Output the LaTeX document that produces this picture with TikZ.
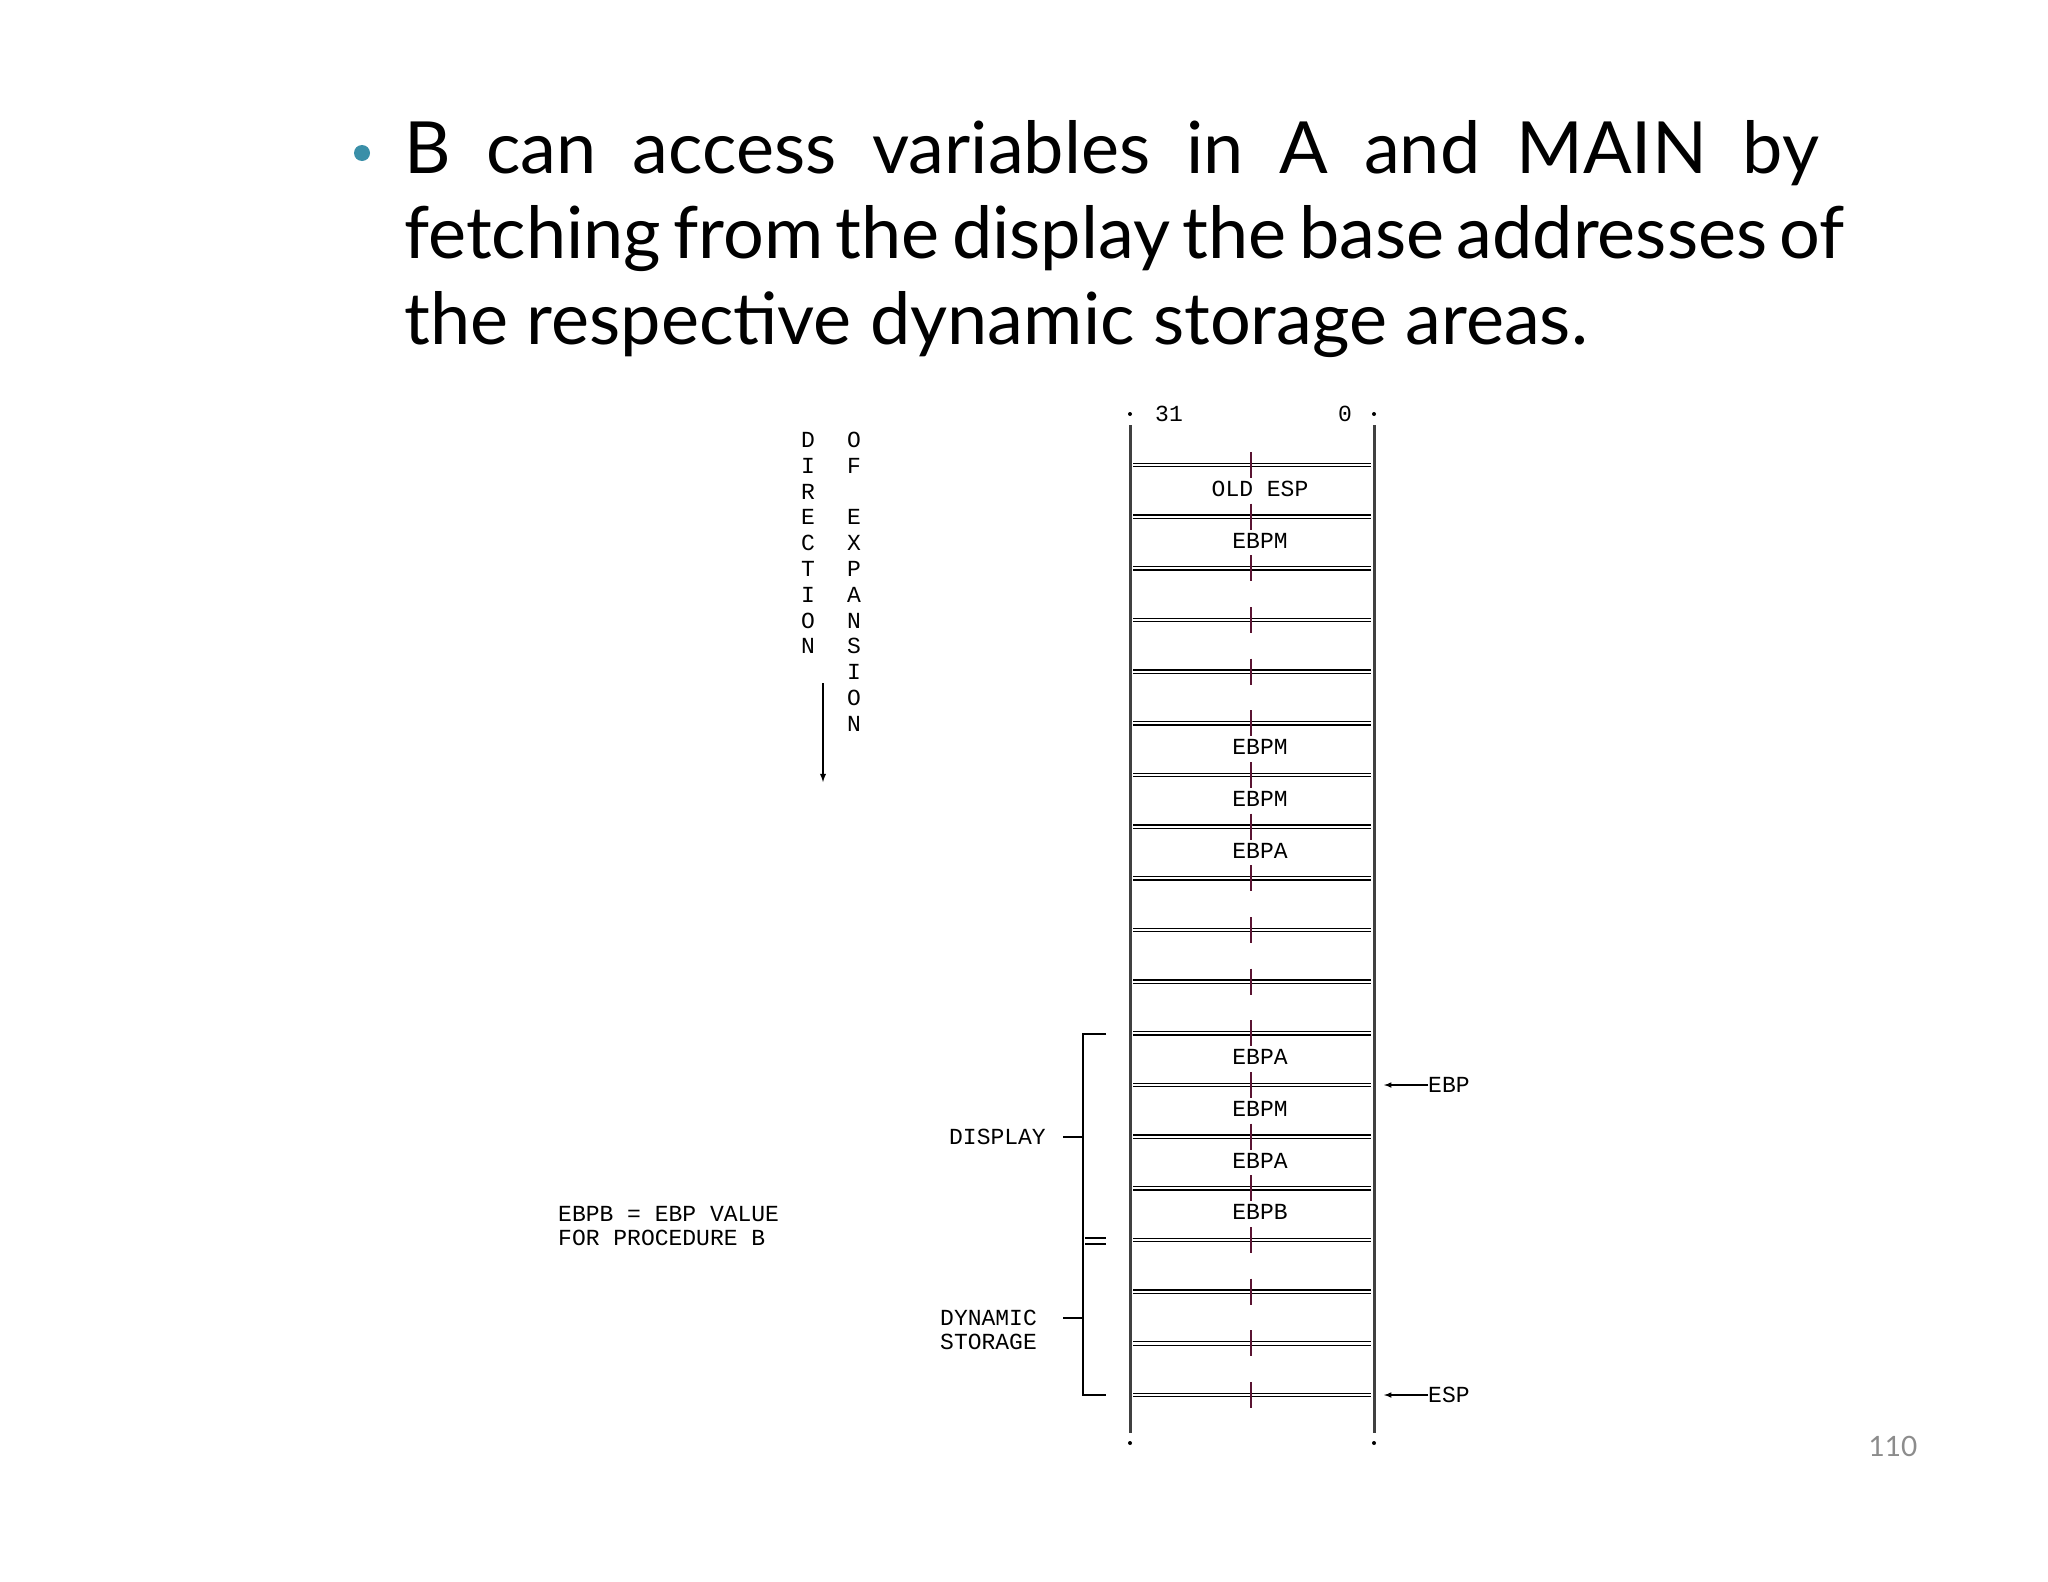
\documentclass[tikz,border=0pt]{standalone}
\usepackage{fontspec}
\setmainfont{Lato}
\newfontfamily\mono{Liberation Mono}
\begin{document}
\begin{tikzpicture}[x=1pt,y=-1pt,
  lbl/.style={font=\mono\fontsize{23}{25}\selectfont, inner sep=0pt},
  row/.style={draw=black, line width=1.2pt, double=white, double distance=2.2pt},
  side/.style={line width=3pt, draw=black!75},
  br/.style={line width=1.8pt}]
\useasboundingbox (0,0) rectangle (2048,1582);
\fill[fill={rgb,255:red,58;green,143;blue,168}] (362,153) circle (8);
\tikzset{bt/.style={anchor=west, inner sep=0pt, font=\fontsize{72}{80}\selectfont}}
\node[bt] (l1) at (404,153) {\makebox[1415pt][s]{B can access variables in A and MAIN by}};
\node[bt] (l2) at (404,239) {\makebox[1415pt][s]{fetching from the display the base addresses of}};
\node[bt] (l3) at (404,325) {the respective dynamic storage areas.};
% stack sides
\draw[side] (1130,425) -- (1130,1433);
\draw[side] (1374,425) -- (1374,1433);
\fill (1130,414) circle (2); \fill (1374,414) circle (2);
\fill (1130,1443) circle (2); \fill (1374,1443) circle (2);
\node[lbl] (b31) at (1169,414) {31};
\node[lbl] (b0) at (1345,414) {0};
\foreach \i in {0,...,18}{
  \pgfmathsetmacro\yy{465+51.67*\i}
  \draw[row] (1133,\yy) -- (1371,\yy);
  \draw[line width=1.5pt, draw={rgb,255:red,90;green,20;blue,50}] (1251,\yy-13) -- (1251,\yy+13);
}
\foreach \i/\t in {0/OLD ESP,1/EBPM,5/EBPM,6/EBPM,7/EBPA,11/EBPA,12/EBPM,13/EBPA,14/EBPB}{
  \pgfmathsetmacro\yy{465+51.67*\i+24}
  \node[lbl, fill=white, inner sep=1pt] at (1260,\yy) {\t};
}
% pointers
\node[lbl, anchor=west] (ebp) at (1428,1085) {EBP};
\coordinate (ebpt) at (1384,1085);
\draw[-latex, line width=1.5pt] (ebp.west) -- (ebpt);
\node[lbl, anchor=west] (esp) at (1428,1395) {ESP};
\coordinate (espt) at (1384,1395);
\draw[-latex, line width=1.5pt] (esp.west) -- (espt);
% bracket
\draw[br] (1106,1034) -- (1083,1034) -- (1083,1395) -- (1106,1395);
\draw[br] (1085,1238) -- (1106,1238); \draw[br] (1085,1244) -- (1106,1244);
\draw[br] (1063,1137) -- (1083,1137);
\draw[br] (1063,1318) -- (1083,1318);
\node[lbl, anchor=east] (disp) at (1046,1137) {DISPLAY};
\node[lbl, anchor=west, align=left] (dyn) at (940,1330) {DYNAMIC\\[-1pt]STORAGE};
\node[lbl, anchor=west, align=left] (note) at (558,1226) {EBPB = EBP VALUE\\[-1pt]FOR PROCEDURE B};
% direction
\foreach \c [count=\k from 0] in {D,I,R,E,C,T,I,O,N}
  \node[lbl] at (808,440+25.8*\k) {\c};
\foreach \c [count=\k from 0] in {O,F,{},E,X,P,A,N,S,I,O,N}
  \node[lbl] at (854,440+25.8*\k) {\c};
\coordinate (da) at (823,683);
\coordinate (db) at (823,782);
\draw[-latex, line width=1.8pt] (da) -- (db);
\node[font=\fontsize{28}{30}\selectfont, text=black!45, inner sep=0pt] (pg) at (1893,1446) {110};
\end{tikzpicture}
\end{document}
